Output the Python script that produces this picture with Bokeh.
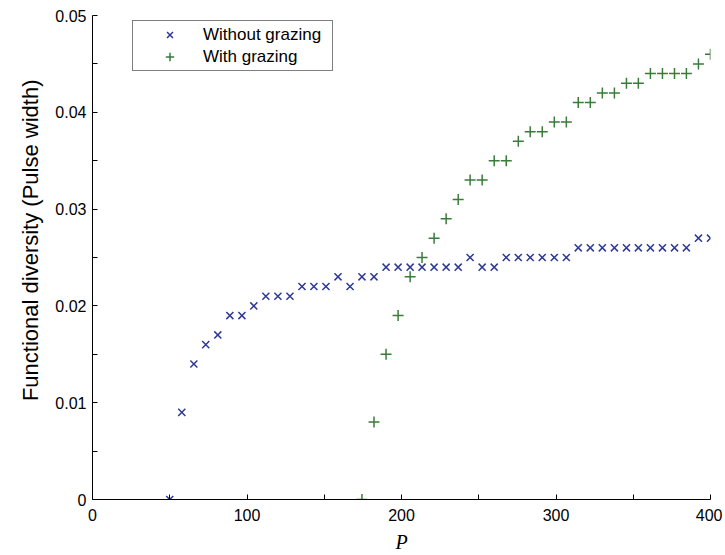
from bokeh.plotting import figure
from bokeh.models import FixedTicker, CustomJSTickFormatter, Legend, LegendItem, Range1d, Title
from bokeh.embed import file_html
from bokeh.resources import INLINE

# P values (x positions of samples)
p_without = [50.0, 57.8, 65.6, 73.3, 81.1, 88.9, 96.7, 104.4, 112.2, 120.0,
             127.8, 135.6, 143.3, 151.1, 158.9, 166.7, 174.4, 182.2, 190.0, 197.8,
             205.6, 213.3, 221.1, 228.9, 236.7, 244.4, 252.2, 260.0, 267.8, 275.6,
             283.3, 291.1, 298.9, 306.7, 314.4, 322.2, 330.0, 337.8, 345.6, 353.3,
             361.1, 368.9, 376.7, 384.4, 392.2, 400.0]
fd_without = [0.000, 0.009, 0.014, 0.016, 0.017, 0.019, 0.019, 0.020, 0.021, 0.021,
              0.021, 0.022, 0.022, 0.022, 0.023, 0.022, 0.023, 0.023, 0.024, 0.024,
              0.024, 0.024, 0.024, 0.024, 0.024, 0.025, 0.024, 0.024, 0.025, 0.025,
              0.025, 0.025, 0.025, 0.025, 0.026, 0.026, 0.026, 0.026, 0.026, 0.026,
              0.026, 0.026, 0.026, 0.026, 0.027, 0.027]

p_with = [174.4, 182.2, 190.0, 197.8, 205.6, 213.3, 221.1, 228.9, 236.7, 244.4,
          252.2, 260.0, 267.8, 275.6, 283.3, 291.1, 298.9, 306.7, 314.4, 322.2,
          330.0, 337.8, 345.6, 353.3, 361.1, 368.9, 376.7, 384.4, 392.2, 400.0]
fd_with = [0.000, 0.008, 0.015, 0.019, 0.023, 0.025, 0.027, 0.029, 0.031, 0.033,
           0.033, 0.035, 0.035, 0.037, 0.038, 0.038, 0.039, 0.039, 0.041, 0.041,
           0.042, 0.042, 0.043, 0.043, 0.044, 0.044, 0.044, 0.044, 0.045, 0.046]

x_ticks = [0, 100, 200, 300, 400]
x_minor = [50, 150, 250, 350]
y_ticks = [0, 0.01, 0.02, 0.03, 0.04, 0.05]
y_minor = [0.005, 0.015, 0.025, 0.035, 0.045]

x_title = "P"
y_title = "Functional diversity (Pulse width)"

BLUE = "#2e3a96"
GREEN = "#3a7b3a"

p = figure(width=722, height=555, output_backend="svg", toolbar_location=None,
           x_range=Range1d(0, 400), y_range=Range1d(0, 0.05),
           min_border_left=92, min_border_right=12, min_border_top=15, min_border_bottom=56,
           x_axis_label=x_title)
p.xgrid.visible = False
p.ygrid.visible = False
p.outline_line_color = None
p.background_fill_color = "white"
p.border_fill_color = "white"

r1 = p.scatter(p_without, fd_without, marker="x", size=10, line_width=1.5, color=BLUE)
r2 = p.scatter(p_with, fd_with, marker="cross", size=11, line_width=1.5, color=GREEN)

for ax in (p.xaxis[0], p.yaxis[0]):
    ax.axis_line_color = "black"
    ax.axis_line_width = 1
    ax.major_tick_in = 5
    ax.major_tick_out = 0
    ax.minor_tick_in = 5
    ax.minor_tick_out = 0
    ax.major_tick_line_color = "black"
    ax.minor_tick_line_color = "black"
    ax.major_label_text_font = "Liberation Sans"
    ax.major_label_text_font_size = "16px"
    ax.major_label_text_color = "black"
    ax.axis_label_text_color = "black"

p.xaxis[0].ticker = FixedTicker(ticks=x_ticks, minor_ticks=x_minor)
p.yaxis[0].ticker = FixedTicker(ticks=y_ticks, minor_ticks=y_minor)
p.yaxis[0].formatter = CustomJSTickFormatter(code="return tick === 0 ? '0' : tick.toFixed(2);")
p.xaxis[0].major_label_standoff = 9
p.yaxis[0].major_label_standoff = 6

p.xaxis[0].axis_label_text_font = "Liberation Serif"
p.xaxis[0].axis_label_text_font_style = "italic"
p.xaxis[0].axis_label_text_font_size = "20px"
p.xaxis[0].axis_label_standoff = 7

# y-axis title as a side title, set slightly above the frame centre as in the reference
ytitle = Title(text=y_title, align="right", offset=64, standoff=20,
               text_font="Liberation Sans", text_font_size="22px",
               text_font_style="normal", text_color="black")
p.add_layout(ytitle, "left")

legend = Legend(items=[LegendItem(label="Without grazing", renderers=[r1]),
                       LegendItem(label="With grazing", renderers=[r2])],
                location=(40, 428))
legend.border_line_color = "black"
legend.border_line_width = 1
legend.background_fill_color = "white"
legend.background_fill_alpha = 1
legend.label_text_font = "Liberation Sans"
legend.label_text_font_size = "17px"
legend.label_text_color = "black"
legend.padding = 3
legend.spacing = 1
legend.margin = 0
legend.glyph_width = 67
legend.glyph_height = 21
legend.label_height = 21
legend.label_width = 126
legend.label_standoff = 0
p.add_layout(legend, "center")

open("out.html", "w").write(file_html(p, INLINE))
